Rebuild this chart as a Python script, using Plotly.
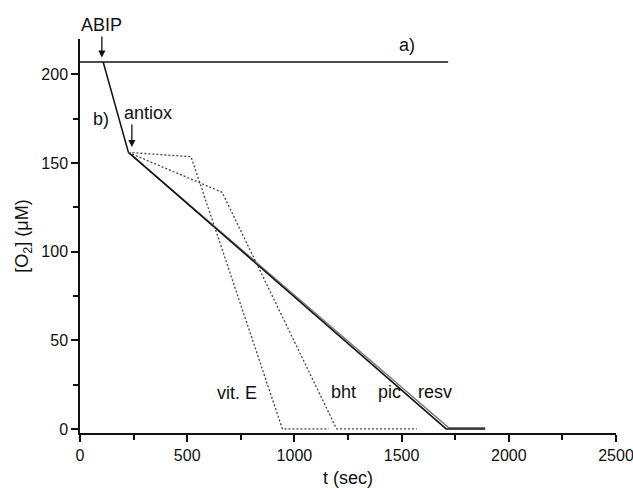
import plotly.graph_objects as go

# ---- data ----
a_t = [0, 1717]
a_o2 = [207, 207]

b_t = [108, 226]
b_o2 = [207, 156]

pic_t = [226, 1708, 1890]
pic_o2 = [156, 0, 0]

resv_t = [226, 1720, 1890]
resv_o2 = [156, 0.6, 0.6]

vite_t = [226, 518, 944, 1161]
vite_o2 = [156, 153.6, 0, 0]

bht_t = [226, 663, 1197, 1571]
bht_o2 = [156, 133.5, 0, 0]

x_ticks = [0, 500, 1000, 1500, 2000, 2500]
y_ticks = [0, 50, 100, 150, 200]

FONT = "Liberation Sans, Arial, sans-serif"

fig = go.Figure()
solid = dict(color="#111111", width=1.5)
dotted = dict(color="#444444", width=1.3, dash="2px,2px")
fig.add_trace(go.Scatter(x=a_t, y=a_o2, mode="lines", line=solid, showlegend=False))
fig.add_trace(go.Scatter(x=b_t, y=b_o2, mode="lines", line=solid, showlegend=False))
fig.add_trace(go.Scatter(x=resv_t, y=resv_o2, mode="lines", line=dict(color="#777777", width=1.5), showlegend=False))
fig.add_trace(go.Scatter(x=pic_t, y=pic_o2, mode="lines", line=solid, showlegend=False))
fig.add_trace(go.Scatter(x=vite_t, y=vite_o2, mode="lines", line=dotted, showlegend=False))
fig.add_trace(go.Scatter(x=bht_t, y=bht_o2, mode="lines", line=dotted, showlegend=False))

ann_font = dict(family=FONT, size=18, color="#111111")
labels = [
    ("a)", 1526, 216.5),
    ("b)", 98, 175),
    ("antiox", 317, 178.5),
    ("vit. E", 730, 20),
    ("bht", 1229, 21),
    ("pic", 1442, 21),
    ("resv", 1657, 21),
]
for txt, x, y in labels:
    fig.add_annotation(x=x, y=y, text=txt, showarrow=False, font=ann_font,
                       xanchor="center", yanchor="middle")

# arrows
fig.add_annotation(x=102, y=209.5, text="ABIP", showarrow=True, ax=0, ay=-21,
                   arrowhead=2, arrowsize=1.1, arrowwidth=1.3, arrowcolor="#111111",
                   font=ann_font, yanchor="bottom")
fig.add_annotation(x=242, y=159, text="", showarrow=True, ax=0, ay=-24,
                   arrowhead=2, arrowsize=1.1, arrowwidth=1.3, arrowcolor="#111111")

axis_common = dict(
    showgrid=False, zeroline=False, showline=True, linecolor="#111111", linewidth=1.5,
    ticks="outside", ticklen=7, tickwidth=1.5, tickcolor="#111111",
    tickfont=dict(family=FONT, size=16, color="#111111"),
    mirror=False, automargin=False, ticklabeloverflow="allow",
)
fig.update_xaxes(
    range=[0, 2500], tickvals=x_ticks, ticktext=[str(v) for v in x_ticks],
    title=dict(text="t (sec)", font=dict(family=FONT, size=18, color="#111111"), standoff=10),
    minor=dict(ticks="outside", ticklen=5, tickwidth=1.5, tickcolor="#111111", dtick=250, tick0=0),
    **axis_common,
)
fig.update_yaxes(
    range=[-2.3, 220], tickvals=y_ticks, ticktext=[str(v) for v in y_ticks],
    title=dict(text="[O<sub>2</sub>] (μM)", font=dict(family=FONT, size=18, color="#111111"), standoff=8),
    minor=dict(ticks="outside", ticklen=5, tickwidth=1.5, tickcolor="#111111", dtick=25, tick0=0),
    **axis_common,
)
fig.update_layout(
    width=633, height=488,
    margin=dict(l=80, r=17, t=39, b=55),
    plot_bgcolor="white", paper_bgcolor="white",
    font=dict(family=FONT, color="#111111"),
)
fig.write_html("out.html", config={"displayModeBar": False},
               post_script="document.body.style.margin='0px';document.body.style.overflow='hidden';")
